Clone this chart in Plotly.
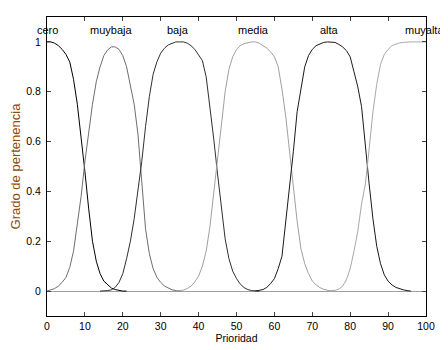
import plotly.graph_objects as go

# Membership function samples (x = Prioridad, y = grado)
cero_x = list(range(0, 22))
cero_y = [1.0, 1.0, 0.995, 0.985, 0.97, 0.95, 0.92, 0.85, 0.75, 0.62, 0.48,
          0.33, 0.2, 0.12, 0.07, 0.04, 0.025, 0.012, 0.006, 0.002, 0.0, 0.0]

muybaja_x = list(range(0, 36))
muybaja_y = [0.0, 0.004, 0.01, 0.02, 0.035, 0.055, 0.095, 0.16, 0.26, 0.38, 0.52,
             0.64, 0.75, 0.84, 0.9, 0.945, 0.968, 0.98, 0.98, 0.97, 0.945,
             0.9, 0.83, 0.75, 0.63, 0.43, 0.25, 0.15, 0.09, 0.055, 0.035,
             0.02, 0.011, 0.005, 0.002, 0.0]

baja_x = list(range(14, 57))
baja_y = [0.0, 0.0, 0.002, 0.005, 0.015, 0.035, 0.07, 0.13, 0.2, 0.29, 0.4,
          0.52, 0.66, 0.78, 0.87, 0.92, 0.955, 0.975, 0.988, 0.995, 1.0,
          1.0, 1.0, 0.995, 0.985, 0.97, 0.95, 0.925, 0.86, 0.74, 0.61,
          0.47, 0.33, 0.21, 0.13, 0.08, 0.05, 0.028, 0.014, 0.006, 0.002,
          0.0, 0.0]

media_x = list(range(34, 76))
media_y = [0.0, 0.001, 0.004, 0.01, 0.02, 0.037, 0.06, 0.1, 0.16, 0.26, 0.39,
           0.52, 0.66, 0.8, 0.89, 0.94, 0.97, 0.985, 0.993, 0.998, 1.0,
           1.0, 0.995, 0.985, 0.975, 0.96, 0.94, 0.9, 0.81, 0.7, 0.56,
           0.42, 0.28, 0.17, 0.11, 0.07, 0.04, 0.025, 0.014, 0.007, 0.002,
           0.0]

alta_x = list(range(55, 97))
alta_y = [0.0, 0.002, 0.006, 0.015, 0.03, 0.05, 0.09, 0.14, 0.28, 0.41, 0.56,
          0.72, 0.82, 0.9, 0.945, 0.97, 0.985, 0.993, 0.998, 1.0, 1.0,
          0.998, 0.99, 0.98, 0.965, 0.94, 0.88, 0.82, 0.74, 0.57, 0.43,
          0.29, 0.18, 0.11, 0.065, 0.04, 0.025, 0.015, 0.009, 0.005, 0.002,
          0.0]

muyalta_x = list(range(74, 101))
muyalta_y = [0.0, 0.001, 0.003, 0.008, 0.02, 0.045, 0.09, 0.16, 0.24, 0.35,
             0.43, 0.57, 0.72, 0.83, 0.91, 0.95, 0.97, 0.985, 0.992, 0.996,
             0.998, 1.0, 1.0, 1.0, 1.0, 1.0, 1.0]

mf_names = ["cero", "muybaja", "baja", "media", "alta", "muyalta"]
label_x = [0, 17, 34.5, 54.5, 74.5, 99.5]
label_y = 1.047

x_ticks = [0, 10, 20, 30, 40, 50, 60, 70, 80, 90, 100]
y_ticks = [0, 0.2, 0.4, 0.6, 0.8, 1]
y_tick_text = ["0", "0.2", "0.4", "0.6", "0.8", "1"]

series = [
    (cero_x, cero_y, "#000000"),
    (muybaja_x, muybaja_y, "#6e6e6e"),
    (baja_x, baja_y, "#303030"),
    (media_x, media_y, "#a0a0a0"),
    (alta_x, alta_y, "#1a1a1a"),
    (muyalta_x, muyalta_y, "#a8a8a8"),
]

fig = go.Figure()
for (xs, ys, col), name in zip(series, mf_names):
    fig.add_trace(go.Scatter(x=xs, y=ys, mode="lines", name=name,
                             line=dict(color=col, width=1), showlegend=False,
                             hoverinfo="skip"))

font_family = "Liberation Sans, Arial, sans-serif"
for name, lx in zip(mf_names, label_x):
    fig.add_annotation(x=lx, y=label_y, xref="x", yref="y", text=name,
                       showarrow=False, xanchor="center", yanchor="middle",
                       font=dict(size=11, color="#000000", family=font_family))

# page body has an 8px default margin, so the figure is 8px smaller than the window
fig.update_layout(
    width=440, height=342,
    margin=dict(l=39, r=22, t=9, b=34, autoexpand=False),
    paper_bgcolor="white", plot_bgcolor="white",
    font=dict(family=font_family, size=10.5, color="black"),
    xaxis=dict(range=[0, 100], tickvals=x_ticks, ticks="inside", ticklen=4,
               showline=True, linecolor="black", linewidth=1, mirror="ticks",
               showgrid=False, zeroline=False, tickfont=dict(size=10.5),
               automargin=False,
               title=dict(text="Prioridad", font=dict(size=10.5, color="black"),
                          standoff=4)),
    yaxis=dict(range=[-0.1, 1.1], tickvals=y_ticks, ticktext=y_tick_text,
               ticks="inside", ticklen=4, showline=True, linecolor="black",
               linewidth=1, mirror="ticks", showgrid=False, zeroline=True,
               zerolinecolor="#a0a0a0", zerolinewidth=1, automargin=False,
               tickfont=dict(size=10.5), ticklabelstandoff=3,
               title=dict(text="Grado de pertenencia",
                          font=dict(size=13, color="#8c4a10"), standoff=2)),
)

fig.write_html("out.html")
